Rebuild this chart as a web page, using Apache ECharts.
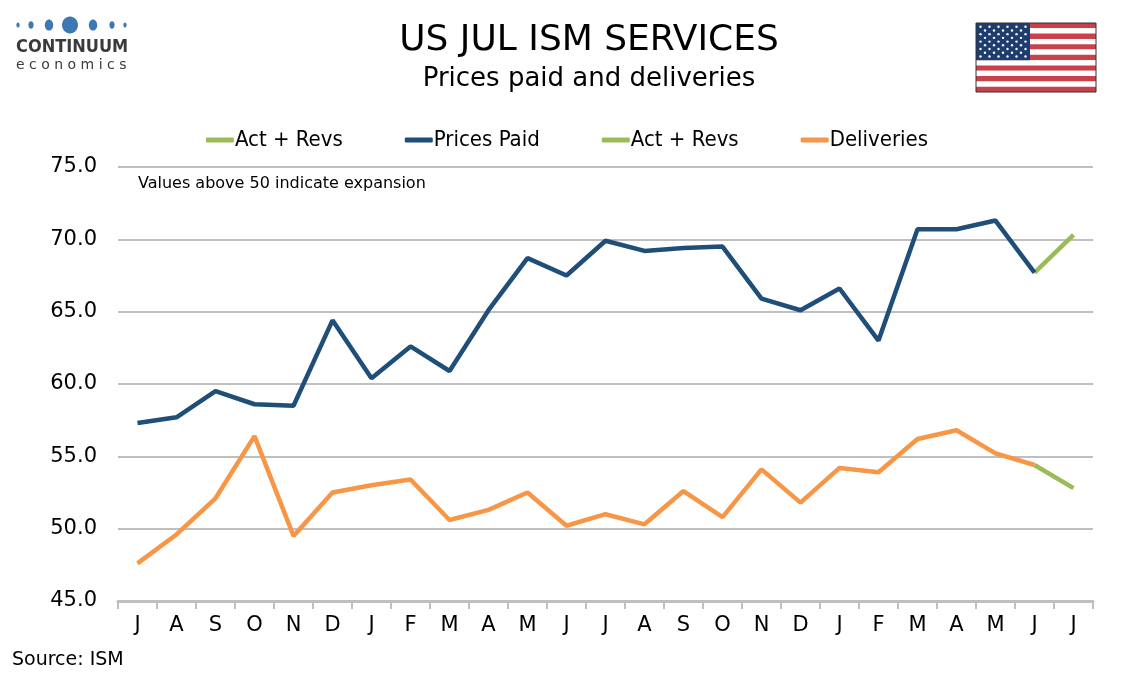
<!DOCTYPE html>
<html>
<head>
<meta charset="utf-8">
<script src="https://cdn.jsdelivr.net/npm/echarts@6/dist/echarts.min.js"></script>
<style>
  html, body { margin: 0; padding: 0; background: #fff; }
  #chart { width: 1134px; height: 680px; }
</style>
</head>
<body>
<div id="chart"></div>
<script>
// months Jul -> Jul
var months = ['J', 'A', 'S', 'O', 'N', 'D', 'J', 'F', 'M', 'A', 'M', 'J',
  'J', 'A', 'S', 'O', 'N', 'D', 'J', 'F', 'M', 'A', 'M', 'J', 'J'];

// ISM services prices paid, up to June
var pricesPaid = [57.3, 57.7, 59.5, 58.6, 58.5, 64.4, 60.4, 62.6, 60.9, 65.1, 68.7, 67.5,
  69.9, 69.2, 69.4, 69.5, 65.9, 65.1, 66.6, 63.0, 70.7, 70.7, 71.3, 67.7];
var pricesLatest = 70.3;

// supplier deliveries, up to June
var deliveries = [47.6, 49.6, 52.1, 56.4, 49.5, 52.5, 53.0, 53.4, 50.6, 51.3, 52.5, 50.2,
  51.0, 50.3, 52.6, 50.8, 54.1, 51.8, 54.2, 53.9, 56.2, 56.8, 55.2, 54.4];
var deliveriesLatest = 52.8;

var yTicks = [45, 50, 55, 60, 65, 70, 75];

var NAVY = '#1f4e79', ORANGE = '#f79646', GREEN = '#9bbb59';

// green segment = last actual + latest month
function revLine(hist, latest) {
    var out = [];
    for (var i = 0; i < months.length; i++) out.push(null);
    out[hist.length - 1] = hist[hist.length - 1];
    out[hist.length] = latest;
    return out;
}

// flag drawing (decoration)
function flag(x0, y0, w, h) {
    var els = [];
    var sh = h / 13;
    for (var i = 0; i < 13; i++) {
        els.push({ type: 'rect', shape: { x: x0, y: y0 + i * sh, width: w, height: sh },
            style: { fill: i % 2 === 0 ? '#c8414b' : '#ffffff' } });
    }
    var cw = w * 0.45, ch = sh * 7;
    els.push({ type: 'rect', shape: { x: x0, y: y0, width: cw, height: ch }, style: { fill: '#1d3d6e' } });
    for (var r = 0; r < 9; r++) {
        var n = r % 2 === 0 ? 6 : 5;
        for (var c = 0; c < n; c++) {
            var sx = x0 + cw / 12 * (r % 2 === 0 ? 1 + 2 * c : 2 + 2 * c);
            var sy = y0 + ch / 10 * (r + 1);
            els.push({ type: 'circle', shape: { cx: sx, cy: sy, r: 1.2 }, style: { fill: '#ffffff' } });
        }
    }
    els.push({ type: 'rect', shape: { x: x0, y: y0, width: w, height: h },
        style: { fill: 'none', stroke: '#333', lineWidth: 1 } });
    return els;
}

function logo() {
    var dots = [[18, 1.6, 2.6], [31, 2.6, 3.8], [49, 4.2, 5.6], [70, 8, 8.5], [93, 4.2, 5.6], [112, 2.6, 3.8], [125, 1.6, 2.6]];
    var els = dots.map(function (d) {
        return { type: 'ellipse', shape: { cx: d[0], cy: 25, rx: d[1], ry: d[2] }, style: { fill: '#3b78b4' } };
    });
    els.push({ type: 'text', x: 16, y: 47, style: { text: 'CONTINUUM', fill: '#3a3a3a',
        font: 'bold 18px "DejaVu Sans Condensed", "Liberation Sans Narrow", sans-serif', verticalAlign: 'middle' } });
    els.push({ type: 'text', x: 16, y: 65, style: { text: 'e c o n o m i c s', fill: '#3a3a3a',
        font: '14px "DejaVu Sans", sans-serif', verticalAlign: 'middle' } });
    return els;
}

var chart = echarts.init(document.getElementById('chart'));

var option = {
    animation: false,
    backgroundColor: '#fff',
    title: [{
        text: 'US JUL ISM SERVICES',
        left: 584, top: 18, textAlign: 'center',
        textStyle: { fontFamily: 'DejaVu Sans', fontSize: 36, fontWeight: 'normal', color: '#000' }
    }, {
        text: 'Prices paid and deliveries',
        left: 584, top: 61, textAlign: 'center',
        textStyle: { fontFamily: 'DejaVu Sans', fontSize: 26, fontWeight: 'normal', color: '#000' }
    }],
    legend: {
        top: 124, left: 'center',
        itemWidth: 28, itemHeight: 5, itemGap: 62,
        icon: 'roundRect',
        data: ['Act + Revs', 'Prices Paid', 'Act + Revs ', 'Deliveries'],
        formatter: function (n) { return n.trim(); },
        textStyle: { fontFamily: 'DejaVu Sans Condensed', fontSize: 22, color: '#000', padding: [0, 0, 0, -4] }
    },
    grid: { left: 118, right: 41, top: 167, bottom: 79 },
    xAxis: {
        type: 'category',
        data: months,
        boundaryGap: true,
        axisLine: { lineStyle: { color: '#bfbfbf', width: 3 } },
        axisTick: { show: true, length: 8, lineStyle: { color: '#bfbfbf', width: 2 } },
        axisLabel: { fontFamily: 'DejaVu Sans', fontSize: 21, color: '#000', margin: 14, interval: 0 }
    },
    yAxis: {
        type: 'value',
        min: yTicks[0], max: yTicks[yTicks.length - 1], interval: 5,
        axisLine: { show: false },
        axisTick: { show: false },
        splitLine: { lineStyle: { color: '#bfbfbf', width: 2 } },
        axisLabel: {
            fontFamily: 'DejaVu Sans', fontSize: 21, color: '#000', margin: 21,
            formatter: function (v) { return v.toFixed(1); }
        }
    },
    series: [{
        name: 'Act + Revs', type: 'line', data: revLine(pricesPaid, pricesLatest),
        symbol: 'none', lineStyle: { color: GREEN, width: 4.5 }, itemStyle: { color: GREEN }
    }, {
        name: 'Prices Paid', type: 'line', data: pricesPaid,
        symbol: 'none', lineStyle: { color: NAVY, width: 4.5 }, itemStyle: { color: NAVY }
    }, {
        name: 'Act + Revs ', type: 'line', data: revLine(deliveries, deliveriesLatest),
        symbol: 'none', lineStyle: { color: GREEN, width: 4.5 }, itemStyle: { color: GREEN }
    }, {
        name: 'Deliveries', type: 'line', data: deliveries,
        symbol: 'none', lineStyle: { color: ORANGE, width: 4.5 }, itemStyle: { color: ORANGE }
    }],
    graphic: [].concat(logo(), flag(976, 23, 120, 69), [{
        type: 'text', left: 138, top: 176,
        style: { text: 'Values above 50 indicate expansion', fill: '#000', font: '16px "DejaVu Sans", sans-serif' }
    }, {
        type: 'text', left: 12, top: 651,
        style: { text: 'Source: ISM', fill: '#000', font: '19px "DejaVu Sans", sans-serif' }
    }])
};

chart.setOption(option);
</script>
</body>
</html>
